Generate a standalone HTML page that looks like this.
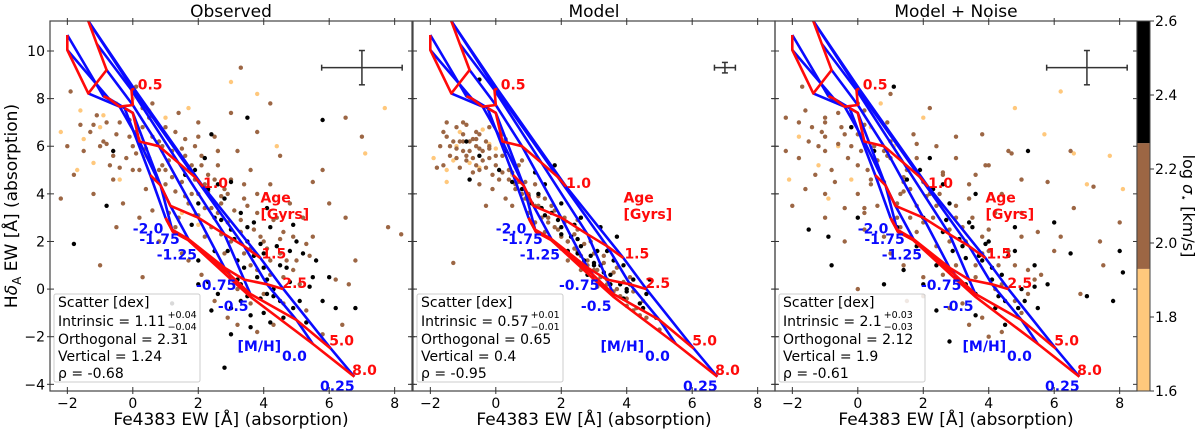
<!DOCTYPE html>
<html><head><meta charset="utf-8">
<style>
html,body{margin:0;padding:0;background:#fff;}
svg{display:block;font-family:"DejaVu Sans","Liberation Sans",sans-serif;}
</style></head>
<body>
<svg id="fig" width="1200" height="434" viewBox="0 0 1200 434" xmlns="http://www.w3.org/2000/svg"></svg>
<script>
// ---------- data ----------
const panelTitles = ["Observed", "Model", "Model + Noise"];
const xTicks = [-2, 0, 2, 4, 6, 8];
const yTicks = [-4, -2, 0, 2, 4, 6, 8, 10];
const cbTicks = [1.6, 1.8, 2.0, 2.2, 2.4, 2.6];
const cbBins = [1.6, 1.93, 2.27, 2.6];
const cbColors = ["#ffc87c", "#9c6644", "#000000"];
const ageLabels = ["0.2", "0.5", "1.0", "1.5", "2.5", "5.0", "8.0"];
const mhLabels = ["-2.0", "-1.75", "-1.25", "-0.75", "-0.5", "0.0", "0.25"];
// model grid nodes: rows = ages, cols = [M/H]
const gridNodes = [
 [[-2.0,10.67],[-2.0,10.04],[-1.36,8.22],[-0.8,9.2],[-1.1,10.3],[-1.36,11.26],[-1.36,11.26]],
 [[-0.9,8.1],[-0.73,8.0],[-0.4,7.66],[0.0,7.73],[-0.04,8.36],[0.0,8.4],[0.05,8.4]],
 [[-0.25,7.6],[0.0,7.4],[0.2,6.2],[0.8,6.0],[1.4,5.3],[1.9,4.7],[2.15,4.3]],
 [[0.53,4.79],[0.85,4.35],[1.15,3.5],[2.0,3.0],[2.8,2.3],[3.4,1.8],[3.9,1.3]],
 [[1.0,3.0],[1.2,2.5],[1.7,2.1],[2.8,0.9],[3.4,0.4],[4.1,0.2],[4.6,0.0]],
 [[1.02,2.95],[1.22,2.42],[1.69,2.06],[2.97,0.6],[3.59,-0.2],[5.0,-1.3],[6.05,-2.5]],
 [[1.03,2.9],[1.23,2.4],[1.69,2.06],[2.97,0.45],[3.59,-0.32],[5.5,-2.3],[6.77,-3.68]]
];
const ageLabelPos = [null,[0.15,8.6],[2.15,4.45],[3.93,1.5],[4.57,0.25],[6.0,-2.15],[6.7,-3.4]];
const mhLabelPos = [[0.0,2.55],[0.2,2.1],[0.73,1.45],[1.93,0.17],[2.6,-0.7],[4.56,-2.8],[5.72,-4.08]];
// error bars [xc, yc, xhalf, yhalf]
const errBars = [[7.0,9.3,1.23,0.72],[7.0,9.3,0.32,0.22],[7.0,9.3,1.23,0.72]];
const stats = [
 ["1.11","+0.04","−0.04","2.31","1.24","-0.68"],
 ["0.57","+0.01","−0.01","0.65","0.4","-0.95"],
 ["2.1","+0.03","−0.03","2.12","1.9","-0.61"]
];
// scatter points: light (low sigma), brown (mid), black (high)
const obsLight = [-1.5,6.3,-1.7,5,-1,6.8,-0.5,7.8,0,8,0.5,7.5,-2.2,6.6,1,7.2,-0.4,4.6,0.9,5.8,-1.2,5.3,3.8,8.2,3,8.7,4.4,6,7.7,7.6,7.1,5.7,1.5,3.2,2,2.7,-0.9,7.3,0.2,6.3,1.7,7.6,2.6,5.8,-1.6,7.5,0.4,5.6];
const obsBrown = [-0.5,6.5,0,6,0.5,5.5,1,5,1.5,4.5,2,4,0.3,6.8,0.8,6.2,1.2,5.8,1.8,5.2,2.3,4.8,2.8,4.2,-0.2,5.5,0.2,5,0.7,4.6,1.3,4.1,-1,6,-0.8,7,-1.5,5.8,-1.8,4.8,0.5,7.2,1,6.8,1.6,6.3,2.1,5.6,2.6,5.2,3,4.6,3.4,3.8,3.8,3.2,2.4,3.4,2.9,2.8,3.3,2.4,4,2,4.5,1.5,3.6,1,4.2,0.6,1.7,3.6,1.1,3.2,0.4,4.2,-0.6,4.6,-1.2,4,1.4,7.4,2,7,2.5,6.4,3.2,5.8,3.6,5,4.2,4.4,4.8,3.6,5.2,3,5.5,2.2,5,1.2,2.2,2.2,1.5,1.5,0.8,2,-1.9,8.3,-2.2,3.8,3,7.4,3.8,6.6,4.5,5.6,5.5,4.5,6,3.6,6.5,3,7,6.4,6.5,7.2,7.8,2.6,8.2,2.3,5.8,5,4.2,7.8,3.3,9.3,-1,1,0.3,0.5,2.5,-0.5,3.2,-1.5,3.8,-1.8,0.1,8.5,0.6,7.8,1.9,6,2.7,3.9,1.3,2.6,-0.3,3.6,4.6,-0.6,5.3,-0.9,6.4,-1.5,6.6,0.2,-0.1,7.1,0.9,5.2,1.6,5.6,2.2,4.4,0.1,6.6,-0.7,5.2,1.9,3.1,2.7,2.3,3.6,1.7,4.6,2.4,
 -1.3,6.6,-1.1,7.3,-0.9,6.2,-0.6,5.6,-0.4,7.0,-0.1,6.4,0.1,5.7,0.3,7.6,0.6,6.4,0.9,6.0,1.1,5.4,1.3,6.6,1.5,5.9,1.7,5.0,1.9,4.6,2.1,5.2,2.3,4.1,2.5,4.6,2.7,3.6,2.9,4.0,3.1,3.3,3.3,2.9,3.5,3.5,3.7,2.5,3.9,2.2,4.1,1.7,4.3,2.9,4.5,2.1,4.7,1.2,4.9,0.8,5.1,0.2,5.3,1.9,2.0,3.1,1.6,3.9,1.2,4.7,0.8,5.0,0.4,5.9,0.0,5.0,-0.4,5.1,-0.8,6.1,-1.2,6.9,-1.6,6.9,-2.0,6.0,2.6,3.2,3.0,2.0,3.4,1.5,3.8,0.8,4.2,1.2,4.6,0.5,2.2,3.4,2.4,2.6,2.8,1.5,3.2,0.0,3.6,-0.6,4.0,-0.2,1.0,4.4,1.4,3.0,0.6,3.3,1.8,4.0,2.0,6.4,2.6,5.8,3.4,4.4,3.8,4.0,4.4,3.0,4.9,2.2,5.4,1.4,0.2,3.0,-0.5,2.6,1.7,1.2,2.1,0.6,2.9,-1.2,4.3,-1.5,5.8,-1.9,6.2,0.4,6.8,1.2];
const obsBlack = [2.5,3,3,2.5,3.5,2,4,1.5,4.5,1,3.2,1.2,3.8,0.5,4.3,0,2.8,0.8,3.5,-0.3,4.8,0.3,5.2,1.5,5.5,0.5,4,-1,3,-0.8,2.5,1.6,2,3.6,2.2,5.5,1.6,4.8,2.8,3.8,3.3,3.2,4.2,2.6,5,2,5.6,1.2,6,0.5,5.8,-0.5,4.6,-1.2,3.6,-1.6,3.2,0.4,2.6,-0.2,2,1.2,1.8,2.7,3,4.5,2.4,6.5,4.1,3.4,4.9,2.7,5.3,-1.4,6.2,-0.8,3.9,-0.4,4.4,1.8,-1.8,1.9,-0.8,3.5,-0.6,5.8,3.5,7.2,5.8,7.1,2.8,-3.3,6.8,-0.8,1.2,-0.6,2.3,0.3,3.7,2.8,4.7,0.9,3.4,0.9,4.1,-0.2,
 2.9,1.6,3.3,0.2,3.7,1.4,4.1,0.4,4.5,-0.5,2.7,2.9,3.1,2.1,3.5,2.6,3.9,1.9,4.3,-0.3,4.8,1.6,5.1,-0.5,2.4,-0.9,2.0,0.2,3.6,-1.1,4.9,-0.8,5.4,0.1,2.3,4.2,1.9,5.0,2.6,4.4,3.3,-0.5,4.0,0.9,4.2,-1.4,3.0,-1.9];
const modLight = [-1.5,5,-1.2,6,-0.8,5.3,-0.4,6.7,0,5.9,-1.9,5.5,-1.5,4.5,-0.5,5.1,-1.1,6.6,0.5,4.8,-1.3,5.4,-0.2,6.1];
const modBrown = [-1.2,6.8,-1,6.5,-0.8,6.2,-0.6,6,-0.4,5.8,-0.2,5.5,0,5.2,-1.3,6.2,-1,5.8,-0.7,5.5,-0.5,6.5,-0.9,6.9,-1.4,5.6,-0.3,6.2,0.2,5.6,0.4,5,0.7,4.5,1,4,1.3,3.5,1.6,3,1.9,2.5,2.2,2,2.5,1.6,2.8,1.2,3.1,0.8,3.4,0.4,3.7,0,4,-0.4,4.3,-0.8,4.6,-1.2,0.6,4.2,0.9,3.8,1.2,4.4,1.5,3.8,1.8,3.3,2.1,2.8,2.4,2.3,2.7,1.9,3,1.5,3.3,1.1,3.6,0.7,3.9,0.3,4.2,-0.1,0.1,4.6,-0.1,4.8,-1.6,5.2,-1.7,6,0.3,6.3,-0.7,4.9,0.8,5.4,-1.1,5.1,1.2,2.8,2.5,2.9,2.2,1.2,-1.3,1.1,-0.3,3.5,5,-1.7,0.5,3.5,-0.5,4.4,-1.1,6.2,-0.6,6.3,-0.9,5.4,-0.2,5.9,-1.5,6.4,-0.6,5.2,
 -1.4,6.0,-1.2,5.5,-1.0,6.2,-0.8,5.8,-0.6,6.6,-0.4,5.4,-0.2,6.0,0.0,5.6,-1.6,6.6,-1.0,7.0,-0.7,6.3,-0.5,5.9,-0.3,5.1,-1.2,5.9,-0.9,5.6,0.2,4.9,0.4,4.6,0.6,4.4,0.8,4.0,1.0,3.7,1.2,3.5,1.4,3.0,1.6,2.8,1.8,2.6,2.0,2.2,2.2,2.0,2.4,1.7,2.6,1.4,2.8,1.0,3.0,0.8,3.2,0.5,3.4,0.2,3.6,-0.1,3.8,-0.3,4.0,-0.7,4.2,-0.9,4.4,-1.1,0.5,4.9,0.9,4.5,1.3,3.9,1.7,3.5,2.1,3.0,2.5,2.5,2.9,2.0,3.3,1.4,3.7,0.9,4.1,0.5,4.5,-0.5,1.0,3.2,1.5,2.4,2.0,1.7,2.6,0.8,3.1,0.1,-0.1,4.2,0.3,3.8,-1.8,5.1,-1.5,7.0,-0.2,6.8,0.2,6.5,-0.5,5.0,0.7,5.2];
const modBlack = [-0.9,6.2,-0.5,5.6,0.1,5,0.8,4.2,1.4,3.4,2,2.6,2.6,1.8,3.2,1,3.8,0.2,4.4,-0.6,4.9,-1.2,1.1,3.6,1.7,3.2,2.3,2.2,2.9,1.4,3.5,0.6,4.1,0.2,3.4,1.6,3.9,1,4.6,-0.2,2,3.6,1.5,4.4,2.6,3,3.7,2.2,2.8,0.6,0.3,5.8,-0.8,4.6,1.8,5.2,-0.5,8.8,3.2,2.6,4.7,0.4,1.2,4.9,2.5,2.1,3.0,1.1,4.0,-0.1,
 0.5,4.5,1.0,3.9,1.5,3.1,2.0,2.3,2.5,1.5,3.0,1.0,3.5,0.2,4.0,0.0,4.5,-0.8,1.3,4.0,1.9,2.9,2.4,2.7,3.1,1.6,3.6,1.2,4.2,0.4,2.2,1.6,2.7,1.2,3.3,0.7,3.9,-0.4];
const noiLight = [-1.2,5.2,-0.6,6,0.4,6.8,-0.2,4.6,-1.8,6.4,1.1,6,0.7,7.8,2,7.2,4.8,7.6,5.7,6.5,6.6,5.7,7,4.4,7.7,5.6,8.1,4.2,6.2,8.3,-0.9,3.8,1.6,2.2,-2.1,4.6];
const noiBrown = [-1,7,-0.5,6.8,0,6.5,0.5,6,1,5.5,1.5,5,2,4.5,2.5,4,3,3.5,3.5,3,4,2.5,-1.5,6.2,-1,5.8,-0.3,5.5,0.3,5,0.8,4.5,1.3,4,1.8,3.5,2.3,3,2.8,2.5,3.3,2,3.8,1.5,4.3,1,-1.8,5.5,-1.3,4.8,-0.7,4.5,0,4,0.6,3.5,1.2,3,1.8,2.4,2.4,1.8,3,1,3.6,0.5,4.2,0,-2.2,7.2,-1.6,7.5,-0.8,8,0.2,7.5,0.9,7,1.7,6.5,2.4,6,3,5.5,3.6,4.8,4.4,4,5,3.2,5.5,2.4,6,1.6,5.2,0.8,4.8,-0.5,-2,3.5,-1,3,0.2,2.5,1,1.5,2,0.5,2.8,-0.8,3.4,-1.5,4,-2,6.5,5.8,7.2,4.3,8,2.8,7.5,1,6.8,-0.2,5.8,4.5,4.6,5.8,3.8,6.5,-1.7,8.5,-0.4,2,1.5,-0.5,-0.6,6.1,0.6,5.4,1.4,4.5,2.1,3.9,-1.1,6.6,0.1,5.8,
 -1.4,6.8,-1.0,6.4,-0.6,7.4,-0.2,6.0,0.2,6.9,0.6,5.4,1.0,6.2,1.4,4.7,1.8,5.5,2.2,4.0,2.6,4.8,3.0,3.0,3.4,3.8,3.8,2.2,4.2,3.2,4.6,1.6,5.0,2.2,5.4,0.4,-1.8,7.0,-1.2,6.0,-0.8,5.0,-0.4,6.5,0.0,5.2,0.4,4.4,0.8,5.8,1.2,3.6,1.6,4.2,2.0,2.8,2.4,3.5,2.8,2.0,3.2,2.6,3.6,1.0,4.0,1.6,4.4,0.2,4.8,1.0,5.2,-0.2,-2.2,5.8,-1.6,4.2,-1.0,4.0,-0.4,3.4,0.2,3.2,0.8,2.2,1.4,1.0,2.0,-0.3,2.6,0.6,3.2,-0.6,3.8,-1.2,4.4,-1.8,5.0,-1.0,5.6,0.6,6.2,2.2,6.6,3.4,7.4,2.0,5.0,4.6,4.0,5.2,3.0,6.4,2.2,7.6,1.0,8.2,0.0,7.8,-1.0,7.2,-0.2,6.8,0.4,4.6,0.9,5.6,1.8,6.1,2.6,4.9,3.4,4.4,3.9,5.2,4.7,5.7,1.4,4.1,0.2,3.4,1.3,2.6,1.6,3.0,0.0,0.0,0.8];
const noiBlack = [2,3,2.6,2.4,3.2,1.8,3.8,1.2,4.4,0.6,5,0,3,0.4,3.6,-0.2,4.2,-0.8,2.4,1,1.8,1.8,1.2,2.6,2.8,3.6,3.4,2.8,4,2,4.6,1.4,5.4,1,5.8,0.2,1.5,4.6,0.5,5.8,-0.2,6.8,2.2,5.5,3.6,4,4.8,2.6,-1.5,2.5,-0.8,1,6,2.8,5.5,-0.8,7,-0.3,8,1.6,8.1,0.7,7.8,-0.5,4.5,-1.5,0.8,0.2,5.2,5.8,1.1,8.5,2.8,-2.2,6.5,1.5,3.3,1.3,4.1,0.9,
 2.9,1.6,3.3,0.2,3.7,1.4,4.1,0.4,4.5,-0.5,2.7,2.9,3.1,2.1,3.5,2.6,3.9,1.9,4.3,-0.3,4.8,1.6,5.1,-0.5,2.4,-0.9,2.0,0.2,3.6,-1.1,4.9,-0.8,5.4,0.1,2.3,4.2,1.9,5.0,2.6,4.4,0.0,3.0,-0.9,2.2,1.4,0.8];
const panelPoints = [[obsLight,obsBrown,obsBlack],[modLight,modBrown,modBlack],[noiLight,noiBrown,noiBlack]];

// ---------- layout ----------
const NS = "http://www.w3.org/2000/svg";
const svg = document.getElementById("fig");
const PW = 362, PT = 21, PB = 391;
const panelLeft = [50, 413, 775];
const XMIN = -2.53, XMAX = 8.53, YMIN = -4.28, YMAX = 11.26;
function mk(tag, attrs, parent) {
  const e = document.createElementNS(NS, tag);
  for (const k in attrs) e.setAttribute(k, attrs[k]);
  (parent || svg).appendChild(e);
  return e;
}
function txt(s, attrs, parent) { const e = mk("text", attrs, parent); e.textContent = s; return e; }

panelTitles.forEach((title, p) => {
  const L = panelLeft[p];
  const sx = v => L + (v - XMIN) / (XMAX - XMIN) * PW;
  const sy = v => PB - (v - YMIN) / (YMAX - YMIN) * (PB - PT);
  const g = mk("g", {});
  
  
  const clipId = "clip" + p;
  const cp = mk("clipPath", { id: clipId }, g);
  mk("rect", { x: L, y: PT, width: PW, height: PB - PT }, cp);
  const t = txt(title, { x: L + PW / 2, y: 17, "text-anchor": "middle", "font-size": 17 }, g);
  
  
  // scatter
  const sg = mk("g", { "clip-path": "url(#" + clipId + ")" }, g);
  
  
  panelPoints[p].forEach((arr, ci) => {
    for (let i = 0; i < arr.length; i += 2) {
      const c = mk("circle", { cx: sx(arr[i]).toFixed(1), cy: sy(arr[i + 1]).toFixed(1), r: 2.2, fill: cbColors[ci] }, sg);
      
      
    }
  });
  // grid: blue (constant [M/H]) then red (constant age)
  const gg = mk("g", { "clip-path": "url(#" + clipId + ")", fill: "none", "stroke-width": 2.6, "stroke-linejoin": "round" }, g);
  
  
  for (let z = 0; z < mhLabels.length; z++) {
    const pts = gridNodes.map(r => sx(r[z][0]).toFixed(1) + "," + sy(r[z][1]).toFixed(1)).join(" ");
    const pl = mk("polyline", { points: pts, stroke: "#0a0aff" }, gg);
    
    
  }
  for (let a = 0; a < gridNodes.length; a++) {
    const pts = gridNodes[a].map(q => sx(q[0]).toFixed(1) + "," + sy(q[1]).toFixed(1)).join(" ");
    const pl = mk("polyline", { points: pts, stroke: "#ff0a0a" }, gg);
    
    
  }
  // labels
  ageLabelPos.forEach((pos, a) => {
    if (!pos) return;
    const e = txt(ageLabels[a], { x: sx(pos[0]), y: sy(pos[1]) + 5, fill: "#ff0a0a", "font-size": 14, "font-weight": "bold" }, g);
    
    
  });
  mhLabelPos.forEach((pos, z) => {
    const e = txt(mhLabels[z], { x: sx(pos[0]), y: sy(pos[1]) + 5, fill: "#0a0aff", "font-size": 14, "font-weight": "bold" }, g);
    
    
  });
  const ag = txt("Age", { x: sx(3.9), y: sy(3.85) + 5, fill: "#ff0a0a", "font-size": 14, "font-weight": "bold" }, g);
  
  
  const gy = txt("[Gyrs]", { x: sx(3.9), y: sy(3.15) + 5, fill: "#ff0a0a", "font-size": 14, "font-weight": "bold" }, g);
  
  
  const mh = txt("[M/H]", { x: sx(3.2), y: sy(-2.4) + 5, fill: "#0a0aff", "font-size": 14, "font-weight": "bold" }, g);
  
  
  // error bar
  const eb = errBars[p];
  const eg = mk("g", { stroke: "#333", "stroke-width": 1.5 }, g);
  
  
  mk("line", { x1: sx(eb[0] - eb[2]), x2: sx(eb[0] + eb[2]), y1: sy(eb[1]), y2: sy(eb[1]) }, eg);
  mk("line", { x1: sx(eb[0]), x2: sx(eb[0]), y1: sy(eb[1] + eb[3]), y2: sy(eb[1] - eb[3]) }, eg);
  mk("line", { x1: sx(eb[0] - eb[2]), x2: sx(eb[0] - eb[2]), y1: sy(eb[1]) - 3, y2: sy(eb[1]) + 3 }, eg);
  mk("line", { x1: sx(eb[0] + eb[2]), x2: sx(eb[0] + eb[2]), y1: sy(eb[1]) - 3, y2: sy(eb[1]) + 3 }, eg);
  mk("line", { x1: sx(eb[0]) - 3, x2: sx(eb[0]) + 3, y1: sy(eb[1] + eb[3]), y2: sy(eb[1] + eb[3]) }, eg);
  mk("line", { x1: sx(eb[0]) - 3, x2: sx(eb[0]) + 3, y1: sy(eb[1] - eb[3]), y2: sy(eb[1] - eb[3]) }, eg);
  // stats box
  const bg = mk("g", {}, g);
  
  
  mk("rect", { x: L + 4, y: 294, width: 146, height: 88, fill: "#fff", "fill-opacity": 0.85, stroke: "#ccc", "stroke-width": 1, rx: 2 }, bg);
  const s = stats[p], tx = L + 8;
  txt("Scatter [dex]", { x: tx, y: 307, "font-size": 14 }, bg);
  txt("Intrinsic = " + s[0], { x: tx, y: 326, "font-size": 14 }, bg);
  const iw = 74 + s[0].length * 8.9;
  txt(s[1], { x: tx + iw, y: 318, "font-size": 9.5 }, bg);
  txt(s[2], { x: tx + iw, y: 330, "font-size": 9.5 }, bg);
  txt("Orthogonal = " + s[3], { x: tx, y: 344, "font-size": 14 }, bg);
  txt("Vertical = " + s[4], { x: tx, y: 361, "font-size": 14 }, bg);
  txt("ρ = " + s[5], { x: tx, y: 378, "font-size": 14 }, bg);
  // frame + ticks
  const fr = mk("rect", { x: L, y: PT, width: PW, height: PB - PT, fill: "none", stroke: "#444", "stroke-width": 1.2 }, g);
  
  
  const tg = mk("g", { stroke: "#333", "stroke-width": 1 }, g);
  xTicks.forEach(v => {
    const x = sx(v);
    mk("line", { x1: x, x2: x, y1: PB - 4, y2: PB + 3 }, tg);
    mk("line", { x1: x, x2: x, y1: PT - 3, y2: PT + 4 }, tg);
    const e = txt(v < 0 ? "−" + Math.abs(v) : String(v), { x: x, y: 408, "text-anchor": "middle", "font-size": 14, fill: "#000" }, g);
    
    
  });
  yTicks.forEach(v => {
    const y = sy(v);
    mk("line", { x1: L - 3, x2: L + 4, y1: y, y2: y }, tg);
    mk("line", { x1: L + PW - 4, x2: L + PW + 3, y1: y, y2: y }, tg);
    if (p === 0) {
      const e = txt(v < 0 ? "−" + Math.abs(v) : String(v), { x: 45, y: y + 5, "text-anchor": "end", "font-size": 14, fill: "#000" }, g);
      
      
    }
  });
  const xl = txt("Fe4383 EW [Å] (absorption)", { x: L + PW / 2, y: 425, "text-anchor": "middle", "font-size": 17 }, g);
  
  
});

// y axis title
const yl = txt("", { transform: "translate(17,206) rotate(-90)", "text-anchor": "middle", "font-size": 17 });


yl.innerHTML = 'H<tspan font-style="italic">δ</tspan><tspan font-size="12" dy="4">A</tspan><tspan dy="-4"> EW [Å] (absorption)</tspan>';

// colorbar
const CBX = 1137, CBW = 13;
const cy = v => PB - (v - cbBins[0]) / (cbBins[cbBins.length - 1] - cbBins[0]) * (PB - PT);
const cbg = mk("g", {});


for (let i = 0; i < cbColors.length; i++) {
  const r = mk("rect", { x: CBX, y: cy(cbBins[i + 1]), width: CBW, height: cy(cbBins[i]) - cy(cbBins[i + 1]), fill: cbColors[i] }, cbg);
  
  
}
mk("rect", { x: CBX, y: PT, width: CBW, height: PB - PT, fill: "none", stroke: "#444", "stroke-width": 1 }, cbg);
cbTicks.forEach(v => {
  mk("line", { x1: CBX + CBW, x2: CBX + CBW + 4, y1: cy(v), y2: cy(v), stroke: "#333" }, cbg);
  const e = txt(v.toFixed(1), { x: CBX + CBW + 5, y: cy(v) + 5, "font-size": 14 }, cbg);
  
  
});
const cl = txt("", { transform: "translate(1183,206) rotate(90)", "text-anchor": "middle", "font-size": 16 });


cl.innerHTML = 'log <tspan font-style="italic">σ</tspan><tspan font-size="11" dy="3">⋆</tspan><tspan dy="-3"> [km/s]</tspan>';
</script>
</body></html>
